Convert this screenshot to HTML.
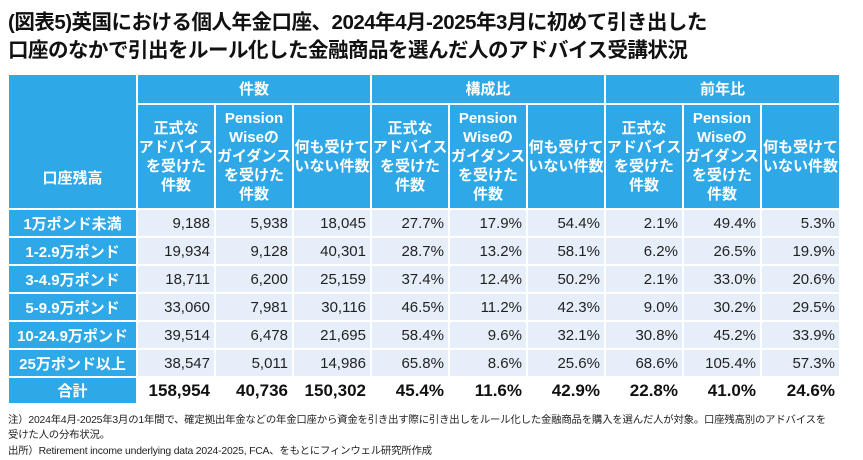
<!DOCTYPE html>
<html><head><meta charset="utf-8"><style>
body{margin:0;width:863px;height:460px;background:#fff;font-family:"Liberation Sans","Noto Sans CJK JP",sans-serif;position:relative;overflow:hidden}
.t{position:absolute;left:8px;font-weight:bold;font-size:20.5px;color:#111;white-space:nowrap;letter-spacing:-0.5px}
table{position:absolute;left:7px;top:73px;border-collapse:collapse;table-layout:fixed}
td{border:2px solid #fff;padding:0;font-size:15px;color:#222}
.h{background:#2fa8e8;color:#fff;font-weight:bold;text-align:center;line-height:19px}
.r{background:#e6eff9;text-align:right;padding-right:4px}
.k{background:#2fa8e8;color:#fff;font-weight:bold;text-align:center;font-size:15px}
.tot td.v{background:#fff;font-weight:bold;font-size:17px;text-align:right;padding-right:4px;color:#111}
.n{position:absolute;left:8px;font-size:10.4px;color:#222;white-space:nowrap;letter-spacing:-0.2px}
</style></head><body>
<div class="t" style="top:5px">(図表5)英国における個人年金口座、2024年4月-2025年3月に初めて引き出した</div>
<div class="t" style="top:33px">口座のなかで引出をルール化した金融商品を選んだ人のアドバイス受講状況</div>
<table>
<colgroup><col style="width:129px"><col style="width:78px"><col style="width:78px"><col style="width:78px"><col style="width:78px"><col style="width:78px"><col style="width:78px"><col style="width:78px"><col style="width:78px"><col style="width:79px"></colgroup>
<tr style="height:30px"><td class="h" rowspan="2" style="vertical-align:bottom;padding-bottom:20px">口座残高</td><td class="h" colspan="3">件数</td><td class="h" colspan="3">構成比</td><td class="h" colspan="3">前年比</td></tr>
<tr style="height:105px">
<td class="h">正式な<br>アドバイス<br>を受けた<br>件数</td><td class="h">Pension<br>Wiseの<br>ガイダンス<br>を受けた<br>件数</td><td class="h">何も受けて<br>いない件数</td>
<td class="h">正式な<br>アドバイス<br>を受けた<br>件数</td><td class="h">Pension<br>Wiseの<br>ガイダンス<br>を受けた<br>件数</td><td class="h">何も受けて<br>いない件数</td>
<td class="h">正式な<br>アドバイス<br>を受けた<br>件数</td><td class="h">Pension<br>Wiseの<br>ガイダンス<br>を受けた<br>件数</td><td class="h">何も受けて<br>いない件数</td></tr>
<tr style="height:28px"><td class="k">1万ポンド未満</td><td class="r">9,188</td><td class="r">5,938</td><td class="r">18,045</td><td class="r">27.7%</td><td class="r">17.9%</td><td class="r">54.4%</td><td class="r">2.1%</td><td class="r">49.4%</td><td class="r">5.3%</td></tr>
<tr style="height:28px"><td class="k">1-2.9万ポンド</td><td class="r">19,934</td><td class="r">9,128</td><td class="r">40,301</td><td class="r">28.7%</td><td class="r">13.2%</td><td class="r">58.1%</td><td class="r">6.2%</td><td class="r">26.5%</td><td class="r">19.9%</td></tr>
<tr style="height:28px"><td class="k">3-4.9万ポンド</td><td class="r">18,711</td><td class="r">6,200</td><td class="r">25,159</td><td class="r">37.4%</td><td class="r">12.4%</td><td class="r">50.2%</td><td class="r">2.1%</td><td class="r">33.0%</td><td class="r">20.6%</td></tr>
<tr style="height:28px"><td class="k">5-9.9万ポンド</td><td class="r">33,060</td><td class="r">7,981</td><td class="r">30,116</td><td class="r">46.5%</td><td class="r">11.2%</td><td class="r">42.3%</td><td class="r">9.0%</td><td class="r">30.2%</td><td class="r">29.5%</td></tr>
<tr style="height:28px"><td class="k">10-24.9万ポンド</td><td class="r">39,514</td><td class="r">6,478</td><td class="r">21,695</td><td class="r">58.4%</td><td class="r">9.6%</td><td class="r">32.1%</td><td class="r">30.8%</td><td class="r">45.2%</td><td class="r">33.9%</td></tr>
<tr style="height:28px"><td class="k">25万ポンド以上</td><td class="r">38,547</td><td class="r">5,011</td><td class="r">14,986</td><td class="r">65.8%</td><td class="r">8.6%</td><td class="r">25.6%</td><td class="r">68.6%</td><td class="r">105.4%</td><td class="r">57.3%</td></tr>
<tr class="tot" style="height:27px"><td class="k">合計</td><td class="v">158,954</td><td class="v">40,736</td><td class="v">150,302</td><td class="v">45.4%</td><td class="v">11.6%</td><td class="v">42.9%</td><td class="v">22.8%</td><td class="v">41.0%</td><td class="v">24.6%</td></tr>
</table>
<div class="n" style="top:411px">注）2024年4月-2025年3月の1年間で、確定拠出年金などの年金口座から資金を引き出す際に引き出しをルール化した金融商品を購入を選んだ人が対象。口座残高別のアドバイスを</div>
<div class="n" style="top:426px">受けた人の分布状況。</div>
<div class="n" style="top:442px">出所）Retirement income underlying data 2024-2025, FCA、をもとにフィンウェル研究所作成</div>
</body></html>
